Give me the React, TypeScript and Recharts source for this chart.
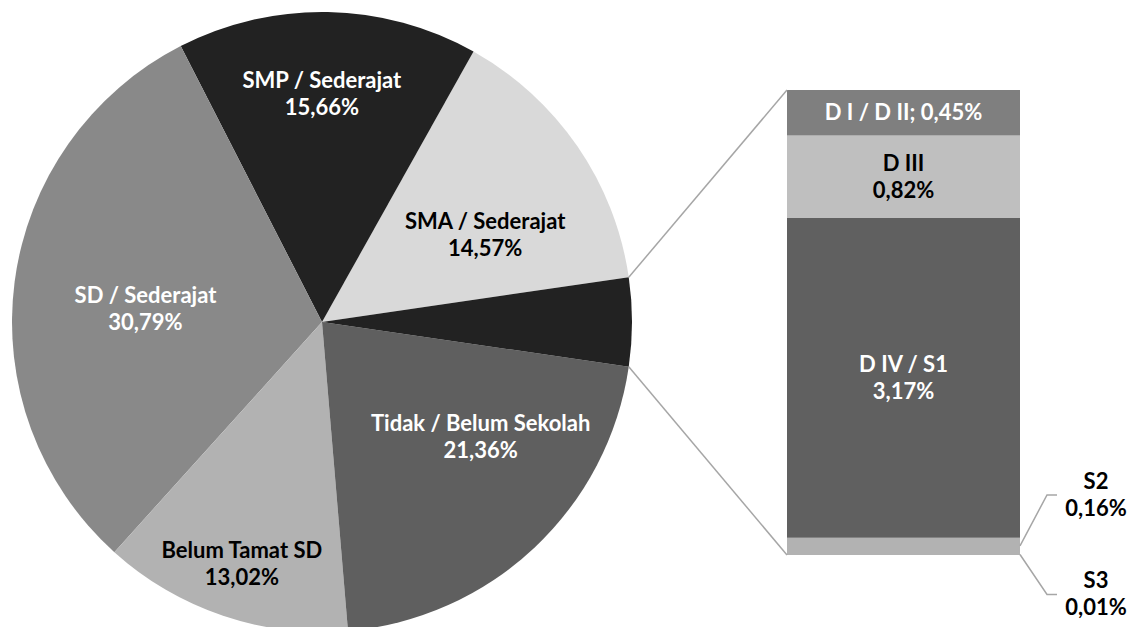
import React from "react";
import { PieChart, Pie, Cell, BarChart, Bar, XAxis, YAxis, LabelList } from "recharts";

// pie: main education levels (order counter-clockwise from 3 o'clock)
const PIE_NAMES = ["SMA / Sederajat", "SMP / Sederajat", "SD / Sederajat", "Belum Tamat SD", "Tidak / Belum Sekolah", "Perguruan Tinggi"];
const PIE_VALUES = [14.57, 15.66, 30.79, 13.02, 21.36];
const PIE_LABELS = ["14,57%", "15,66%", "30,79%", "13,02%", "21,36%", ""];

// bar: breakdown of higher education (bottom to top)
const BAR_KEYS = ["s3", "s2", "d4", "d3", "d12"];
const BAR_NAMES = ["S3", "S2", "D IV / S1", "D III", "D I / D II"];
const BAR_VALUES = [0.01, 0.16, 3.17, 0.82, 0.45];
const BAR_LABELS = ["0,01%", "0,16%", "3,17%", "0,82%", "0,45%"];

const PIE_COLORS = ["#d9d9d9", "#222222", "#898989", "#b2b2b2", "#5f5f5f", "#222222"];
const PIE_TEXT = ["#000", "#fff", "#fff", "#000", "#fff", "#fff"];
const BAR_COLORS = ["#b2b2b2", "#b2b2b2", "#606060", "#bfbfbf", "#7f7f7f"];
const BAR_TEXT = ["#000", "#000", "#fff", "#000", "#fff"];

// label placement tweaks (angle offset in degrees, radius in px)
const PIE_LABEL_POS = [
  { dA: -6.4, r: 185 },
  { dA: 1.1, r: 228 },
  { dA: 3.3, r: 177 },
  { dA: 0.3, r: 255 },
  { dA: 10.8, r: 196 },
  { dA: 0, r: 0 },
];

const W = 1136;
const H = 627;
const CX = 322;
const CY = 322;
const R = 310;
const BAR_LEFT = 787;
const BAR_RIGHT = 1020;
const BAR_TOP = 90;
const BAR_BOTTOM = 555;
const FONT = "Lato, 'Open Sans', sans-serif";
const FS = 22;
const RAD = Math.PI / 180;

const otherTotal = BAR_VALUES.reduce((a, b) => a + b, 0);
const pieData = PIE_NAMES.map((name, i) => ({
  name,
  value: i < PIE_VALUES.length ? PIE_VALUES[i] : otherTotal,
}));
const pieTotal = pieData.reduce((a, d) => a + d.value, 0);
const startAngle = ((otherTotal / pieTotal) * 360) / 2;

const barRow: Record<string, number | string> = { name: "PT" };
BAR_KEYS.forEach((k, i) => (barRow[k] = BAR_VALUES[i]));
const barData = [barRow];

function TwoLines({ x, y, a, b, fill }: { x: number; y: number; a: string; b: string; fill: string }) {
  return (
    <text x={x} y={y} fill={fill} textAnchor="middle" fontFamily={FONT} fontWeight={700} fontSize={FS}>
      <tspan x={x} dy={-6}>{a}</tspan>
      <tspan x={x} dy={27}>{b}</tspan>
    </text>
  );
}

const renderPieLabel = (props: any) => {
  const { index, midAngle } = props;
  if (!PIE_LABELS[index]) return null;
  const p = PIE_LABEL_POS[index];
  const ang = (midAngle + p.dA) * RAD;
  const x = CX + p.r * Math.cos(ang);
  const y = CY - p.r * Math.sin(ang);
  return <TwoLines key={`pl-${index}`} x={x} y={y} a={PIE_NAMES[index]} b={PIE_LABELS[index]} fill={PIE_TEXT[index]} />;
};

function barLabel(i: number) {
  return (props: any) => {
    const { x, y, width, height } = props;
    const cx = x + width / 2;
    const cy = y + height / 2;
    if (i === 4) {
      return (
        <text x={cx} y={cy + 7} fill={BAR_TEXT[i]} textAnchor="middle" fontFamily={FONT} fontWeight={700} fontSize={FS}>
          {`${BAR_NAMES[i]}; ${BAR_LABELS[i]}`}
        </text>
      );
    }
    if (i >= 2) {
      return <TwoLines x={cx} y={cy} a={BAR_NAMES[i]} b={BAR_LABELS[i]} fill={BAR_TEXT[i]} />;
    }
    // small segments: label outside with leader line
    const right = x + width;
    const ly = i === 1 ? cy - 51 : cy + 40;
    return (
      <g>
        <polyline
          points={`${right},${cy} ${right + 27},${ly} ${right + 37},${ly}`}
          fill="none"
          stroke="#a6a6a6"
          strokeWidth={1.5}
        />
        <TwoLines x={right + 76} y={ly} a={BAR_NAMES[i]} b={BAR_LABELS[i]} fill={BAR_TEXT[i]} />
      </g>
    );
  };
}

export default function App() {
  const a = startAngle * RAD;
  const px = CX + R * Math.cos(a);
  const pyTop = CY - R * Math.sin(a);
  const pyBot = CY + R * Math.sin(a);
  return (
    <div style={{ position: "absolute", left: 0, top: 0, width: W, height: H, background: "#fff", overflow: "hidden" }}>
      <div style={{ position: "absolute", left: 0, top: 0 }}>
        <PieChart width={W} height={H} margin={{ top: 0, right: 0, bottom: 0, left: 0 }}>
          <Pie
            data={pieData}
            dataKey="value"
            nameKey="name"
            cx={CX}
            cy={CY}
            outerRadius={R}
            startAngle={startAngle}
            endAngle={startAngle + 360}
            stroke="none"
            label={renderPieLabel}
            labelLine={false}
            isAnimationActive={false}
          >
            {pieData.map((_, i) => (
              <Cell key={`c-${i}`} fill={PIE_COLORS[i]} />
            ))}
          </Pie>
        </PieChart>
      </div>
      <div style={{ position: "absolute", left: 0, top: 0 }}>
        <BarChart
          width={W}
          height={H}
          data={barData}
          margin={{ top: BAR_TOP, bottom: H - BAR_BOTTOM, left: BAR_LEFT, right: W - BAR_RIGHT }}
          barCategoryGap={0}
        >
          <XAxis dataKey="name" hide />
          <YAxis hide domain={[0, otherTotal]} />
          {BAR_KEYS.map((k, i) => (
            <Bar key={k} dataKey={k} stackId="a" fill={BAR_COLORS[i]} isAnimationActive={false}>
              <LabelList dataKey={k} content={barLabel(i)} />
            </Bar>
          ))}
        </BarChart>
      </div>
      <svg width={W} height={H} style={{ position: "absolute", left: 0, top: 0, pointerEvents: "none" }}>
        <line x1={px} y1={pyTop} x2={BAR_LEFT} y2={BAR_TOP} stroke="#a6a6a6" strokeWidth={1.5} />
        <line x1={px} y1={pyBot} x2={BAR_LEFT} y2={BAR_BOTTOM} stroke="#a6a6a6" strokeWidth={1.5} />
      </svg>
    </div>
  );
}
